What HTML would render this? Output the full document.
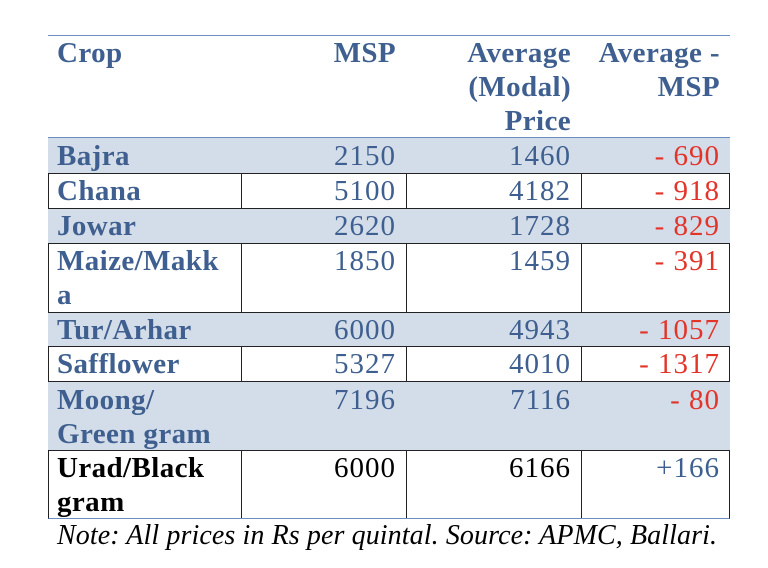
<!DOCTYPE html>
<html><head><meta charset="utf-8"><style>
body{margin:0;width:768px;height:568px;background:#fff;position:relative;overflow:hidden;font-family:"Liberation Serif",serif;}
.r{position:absolute;left:48px;width:682px;box-sizing:border-box}
.s{background:#d3dde9}
.b{border:1.5px solid #222}
.v{position:absolute;top:0;bottom:0;width:0;border-left:1.5px solid #222}
.t{position:absolute;font-size:29px;line-height:34px;color:#3e5f8f;white-space:nowrap}
.c{left:57px;font-weight:bold;letter-spacing:0.4px}
.m,.a,.d{letter-spacing:1px}
.m{right:372px;text-align:right}
.a{right:197px;text-align:right}
.d{right:48px;text-align:right;color:#e3342a}
.k{color:#000}
</style></head><body>
<div class="r" style="top:35px;height:0;border-top:1.5px solid #6d8cbf"></div>
<div class="r s" style="top:137px;height:36px;border-top:1.5px solid #6d8cbf"></div>
<div class="r b" style="top:173px;height:36px"><div class="v" style="left:192px"></div><div class="v" style="left:357px"></div><div class="v" style="left:532px"></div></div>
<div class="r s" style="top:209px;height:34px"></div>
<div class="r b" style="top:243px;height:70px"><div class="v" style="left:192px"></div><div class="v" style="left:357px"></div><div class="v" style="left:532px"></div></div>
<div class="r s" style="top:313px;height:33px"></div>
<div class="r b" style="top:346px;height:36px"><div class="v" style="left:192px"></div><div class="v" style="left:357px"></div><div class="v" style="left:532px"></div></div>
<div class="r s" style="top:382px;height:68px"></div>
<div class="r b" style="top:450px;height:69px;border-bottom-color:#6d8cbf"><div class="v" style="left:192px"></div><div class="v" style="left:357px"></div><div class="v" style="left:532px"></div></div>

<div class="t c" style="top:36px">Crop</div>
<div class="t m" style="top:36px;font-weight:bold;letter-spacing:0.4px">MSP</div>
<div class="t a" style="top:36px;font-weight:bold;letter-spacing:0.4px">Average<br>(Modal)<br>Price</div>
<div class="t d" style="top:36px;font-weight:bold;color:#3e5f8f;letter-spacing:0.4px">Average -<br>MSP</div>

<div class="t c" style="top:139px">Bajra</div><div class="t m" style="top:139px">2150</div><div class="t a" style="top:139px">1460</div><div class="t d" style="top:139px">- 690</div>
<div class="t c" style="top:174px">Chana</div><div class="t m" style="top:174px">5100</div><div class="t a" style="top:174px">4182</div><div class="t d" style="top:174px">- 918</div>
<div class="t c" style="top:209px">Jowar</div><div class="t m" style="top:209px">2620</div><div class="t a" style="top:209px">1728</div><div class="t d" style="top:209px">- 829</div>
<div class="t c" style="top:244px">Maize/Makk<br>a</div><div class="t m" style="top:244px">1850</div><div class="t a" style="top:244px">1459</div><div class="t d" style="top:244px">- 391</div>
<div class="t c" style="top:313px">Tur/Arhar</div><div class="t m" style="top:313px">6000</div><div class="t a" style="top:313px">4943</div><div class="t d" style="top:313px">- 1057</div>
<div class="t c" style="top:347px">Safflower</div><div class="t m" style="top:347px">5327</div><div class="t a" style="top:347px">4010</div><div class="t d" style="top:347px">- 1317</div>
<div class="t c" style="top:383px">Moong/<br>Green gram</div><div class="t m" style="top:383px">7196</div><div class="t a" style="top:383px">7116</div><div class="t d" style="top:383px">- 80</div>
<div class="t c k" style="top:451px">Urad/Black<br>gram</div><div class="t m k" style="top:451px">6000</div><div class="t a k" style="top:451px">6166</div><div class="t d" style="top:451px;color:#3e5f8f">+166</div>

<div class="t k" style="left:57px;top:519px;font-style:italic;font-size:28px;letter-spacing:0.1px">Note: All prices in Rs per quintal. Source: APMC, Ballari.</div>
</body></html>
